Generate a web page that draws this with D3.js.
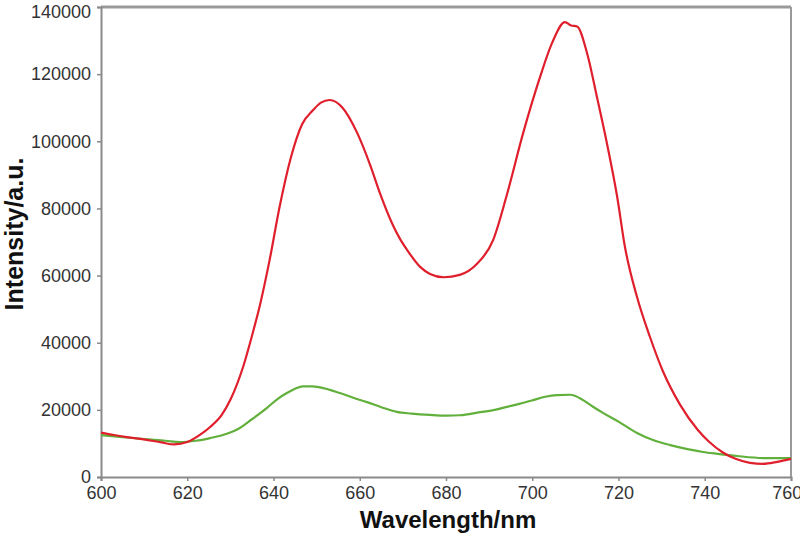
<!DOCTYPE html>
<html>
<head>
<meta charset="utf-8">
<script src="https://cdn.jsdelivr.net/npm/d3@7"></script>
<style>
  body { margin: 0; background: #fff; }
  .tick text { font-family: Arial, "Liberation Sans", sans-serif; font-size: 18px; fill: #333; }
  .axisTitle { font-family: Arial, "Liberation Sans", sans-serif; font-weight: bold; fill: #111; }
</style>
</head>
<body>
<script>
//spectrum data (wavelength in nm, intensity in a.u.)
var redWl = [600, 603, 606, 610, 614, 617, 620, 623, 625.3, 628, 630, 633, 635, 637, 639, 641.5, 644, 646.6, 649.2, 651, 653, 656, 659.4, 662.4, 664.7, 667.7, 669.3, 671, 674, 676.3, 679.5, 683.2, 687.2, 690.9, 694.1, 697.9, 701.8, 704.6, 707.6, 709, 710.4, 712.7, 715, 717.3, 719.7, 721.5, 724.3, 727.3, 730.3, 734.3, 738.4, 741, 744.2, 747, 750.5, 753.5, 756.8, 760];
var redVal = [13200, 12500, 11900, 11200, 10300, 9700, 10400, 12600, 14900, 18500, 23000, 33000, 42000, 52000, 64000, 81000, 95000, 105000, 109300, 111500, 112300, 110000, 102500, 93000, 84500, 75000, 71000, 67600, 62600, 60500, 59500, 60200, 63500, 70500, 84000, 102500, 119100, 129300, 135500, 134500, 134200, 126300, 113200, 99500, 83400, 68500, 53600, 41700, 31500, 21500, 14000, 10500, 7300, 5500, 4200, 3900, 4500, 5400];

var greenWl = [600, 605, 610, 615, 618.3, 622, 625.3, 629, 632.2, 635, 638.5, 641, 643.1, 645, 646.8, 649, 650.8, 655.4, 658.5, 661.7, 665, 668.6, 672, 676.3, 680, 683.2, 687.9, 691, 694.1, 697, 700.2, 703, 705.7, 708.8, 711.8, 714, 716.4, 720, 724.3, 728, 732, 736, 739.6, 743, 747.5, 753.5, 760];
var greenVal = [12500, 11900, 11300, 10800, 10400, 10800, 11600, 12800, 14600, 17200, 20600, 23300, 25000, 26300, 27000, 27000, 26700, 25000, 23600, 22300, 20800, 19400, 18900, 18500, 18300, 18400, 19300, 19900, 20900, 21800, 22900, 23900, 24400, 24500, 22900, 21000, 19100, 16500, 13100, 11000, 9500, 8300, 7450, 6900, 6250, 5650, 5600];

var xTicks = [600, 620, 640, 660, 680, 700, 720, 740, 760];
var yTicks = [0, 20000, 40000, 60000, 80000, 100000, 120000, 140000];

drawChart();

function drawChart(){
    var width = 800,
        height = 536;
    //plot box edges
    var pLeft = 101, pRight = 791, pTop = 7, pBottom = 477;

    var svg = d3.select("body")
        .append("svg")
        .attr("width", width)
        .attr("height", height);

    var x = d3.scaleLinear().domain([600, 760]).range([pLeft, pRight]);
    var y = d3.scaleLinear().domain([0, 140000]).range([pBottom, pTop]);

    //frame on top and right
    svg.append("line")
        .attr("x1", pLeft).attr("x2", pRight)
        .attr("y1", pTop).attr("y2", pTop)
        .attr("stroke", "#9a9a9a").attr("stroke-width", 3);
    svg.append("line")
        .attr("x1", pRight).attr("x2", pRight)
        .attr("y1", pTop).attr("y2", pBottom)
        .attr("stroke", "#9a9a9a").attr("stroke-width", 2);

    //axes
    var xAxis = svg.append("g")
        .attr("transform", "translate(0," + pBottom + ")")
        .call(d3.axisBottom(x).tickValues(xTicks).tickFormat(d3.format("d")).tickSizeOuter(0).tickSize(4).tickPadding(5));
    var yAxis = svg.append("g")
        .attr("transform", "translate(" + pLeft + ",0)")
        .call(d3.axisLeft(y).tickValues(yTicks).tickFormat(d3.format("d")).tickSizeOuter(0).tickSize(4).tickPadding(6));

    [xAxis, yAxis].forEach(function(g){
        g.select(".domain").attr("stroke", "#8a8a8a").attr("stroke-width", 2);
        g.selectAll(".tick line").attr("stroke", "#8a8a8a").attr("stroke-width", 1.5);
    });
    //last x label sits against the right edge
    xAxis.selectAll(".tick text").filter(function(d){ return d === 760; })
        .attr("text-anchor", "end").attr("dx", "0.6em");
    //top y label sits against the top edge
    yAxis.selectAll(".tick text").filter(function(d){ return d === 140000; })
        .attr("dy", "0.6em");

    //spectra
    var line = d3.line()
        .x(function(d){ return x(d[0]); })
        .y(function(d){ return y(d[1]); })
        .curve(d3.curveMonotoneX);

    svg.append("path")
        .datum(d3.zip(greenWl, greenVal))
        .attr("fill", "none")
        .attr("stroke", "#62b03c")
        .attr("stroke-width", 2.2)
        .attr("d", line);

    svg.append("path")
        .datum(d3.zip(redWl, redVal))
        .attr("fill", "none")
        .attr("stroke", "#e01f2d")
        .attr("stroke-width", 2.2)
        .attr("d", line);

    //axis titles
    svg.append("text")
        .attr("class", "axisTitle")
        .attr("x", 448).attr("y", 528)
        .attr("text-anchor", "middle")
        .style("font-size", "24px")
        .text("Wavelength/nm");

    svg.append("text")
        .attr("class", "axisTitle")
        .attr("transform", "translate(23,234) rotate(-90)")
        .attr("text-anchor", "middle")
        .style("font-size", "25px")
        .text("Intensity/a.u.");
}
</script>
</body>
</html>
